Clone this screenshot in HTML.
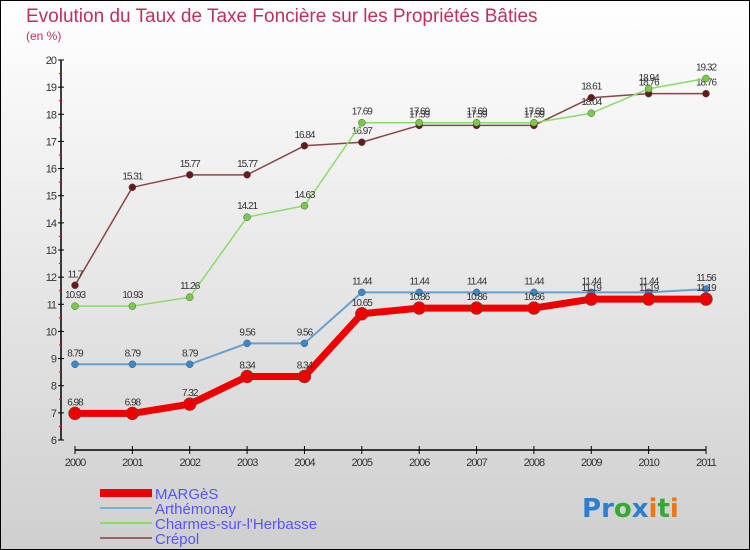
<!DOCTYPE html>
<html><head><meta charset="utf-8"><style>
body{margin:0;width:750px;height:550px;overflow:hidden;font-family:"Liberation Sans",sans-serif}
#wrap{position:absolute;left:0;top:0;width:748px;height:548px;border:1px solid #000;background:linear-gradient(#ffffff,#cfcfcf)}
</style></head><body>
<div id="wrap">
<svg id="chart" width="750" height="550" style="position:absolute;left:-1px;top:-1px">
<text x="26" y="22" font-size="19" fill="#c0305a">Evolution du Taux de Taxe Foncière sur les Propriétés Bâties</text>
<text x="26" y="40" font-size="12" fill="#c0305a">(en %)</text>
<g id="axes"></g><g id="series"></g>
<g>
<rect x="100" y="489" width="52" height="8" fill="#e00"/>
<text x="155" y="499" font-size="15" fill="#5555ff">MARGèS</text>
<rect x="100" y="507" width="52" height="2" fill="#7aaed6"/>
<text x="155" y="514" font-size="15" fill="#5555ff">Arthémonay</text>
<rect x="100" y="522" width="52" height="2" fill="#88dd66"/>
<text x="155" y="529" font-size="15" fill="#5555ff">Charmes-sur-l'Herbasse</text>
<rect x="100" y="537" width="52" height="2" fill="#996666"/>
<text x="155" y="544" font-size="15" fill="#5555ff">Crépol</text>
</g>
<g font-size="26" font-weight="bold" font-family="'DejaVu Sans',sans-serif">
<text x="582" y="517"><tspan fill="#2a7fd0">P</tspan><tspan fill="#2a7fd0">r</tspan><tspan fill="#33aa33">o</tspan><tspan fill="#2a7fd0">x</tspan><tspan fill="#ee7711">i</tspan><tspan fill="#33aa33">t</tspan><tspan fill="#ee7711">i</tspan></text>
</g>
</svg>
</div>
<script>
const years=["2000","2001","2002","2003","2004","2005","2006","2007","2008","2009","2010","2011"];
const yTicks=[6,7,8,9,10,11,12,13,14,15,16,17,18,19,20];
const marges=[6.98,6.98,7.32,8.34,8.34,10.65,10.86,10.86,10.86,11.19,11.19,11.19];
const arthemonay=[8.79,8.79,8.79,9.56,9.56,11.44,11.44,11.44,11.44,11.44,11.44,11.56];
const charmes=[10.93,10.93,11.26,14.21,14.63,17.69,17.69,17.69,17.69,18.04,18.94,19.32];
const crepol=[11.7,15.31,15.77,15.77,16.84,16.97,17.59,17.59,17.59,18.61,18.76,18.76];
const NS="http://www.w3.org/2000/svg";
const x=i=>75+i*(631/11);
const y=v=>440-(v-6)*(380/14);
function mk(t,a,p){const e=document.createElementNS(NS,t);for(const k in a)e.setAttribute(k,a[k]);p.appendChild(e);return e;}
const ax=document.getElementById('axes');
const yl=mk('line',{x1:61,y1:y(20),x2:61,y2:y(6),stroke:'#000','stroke-width':1.5},ax);


yTicks.forEach(v=>{
 const t=mk('line',{x1:58,y1:y(v),x2:64,y2:y(v),stroke:'#000'},ax);
 
 
 if(v<20){const m=mk('line',{x1:59,y1:y(v+0.5),x2:62,y2:y(v+0.5),stroke:'#e00'},ax);
 
 }
 const l=mk('text',{x:56,y:y(v)+4,'font-size':11,fill:'#333','text-anchor':'end','letter-spacing':'-1'},ax);
 l.textContent=v;
 
 
});
const xl=mk('line',{x1:75,y1:450,x2:706,y2:450,stroke:'#000','stroke-width':1.5},ax);


years.forEach((yr,i)=>{
 const t=mk('line',{x1:x(i),y1:446,x2:x(i),y2:454,stroke:'#000'},ax);
 
 
 const l=mk('text',{x:x(i),y:466,'font-size':11,fill:'#333','text-anchor':'middle','letter-spacing':'-1'},ax);
 l.textContent=yr;
 
 
});
const sg=document.getElementById('series');
function series(name,data,color,w,r,dot){
 const g=mk('g',{},sg);
 
 
 const p=mk('polyline',{points:data.map((v,i)=>x(i)+','+y(v)).join(' '),fill:'none',stroke:color,'stroke-width':w,'stroke-linejoin':'round'},g);
 
 
 data.forEach((v,i)=>{
  const c=mk('circle',{cx:x(i),cy:y(v),r:r,fill:dot,stroke:'#555','stroke-width':0.5},g);
  
  
  const l=mk('text',{x:x(i),y:y(v)-8,'font-size':10,fill:'#333','text-anchor':'middle','letter-spacing':'-1'},g);
  l.textContent=String(v);
  
  
 });
}
series('crepol',crepol,'#8a4444',1.5,3.5,'#661a1a');
series('charmes',charmes,'#88dd66',1.5,3.5,'#77cc44');
series('arthemonay',arthemonay,'#6aa0cc',2,3.5,'#3a88cc');
series('marges',marges,'#ee0000',7,6.5,'#ee0000');
</script>
</body></html>
